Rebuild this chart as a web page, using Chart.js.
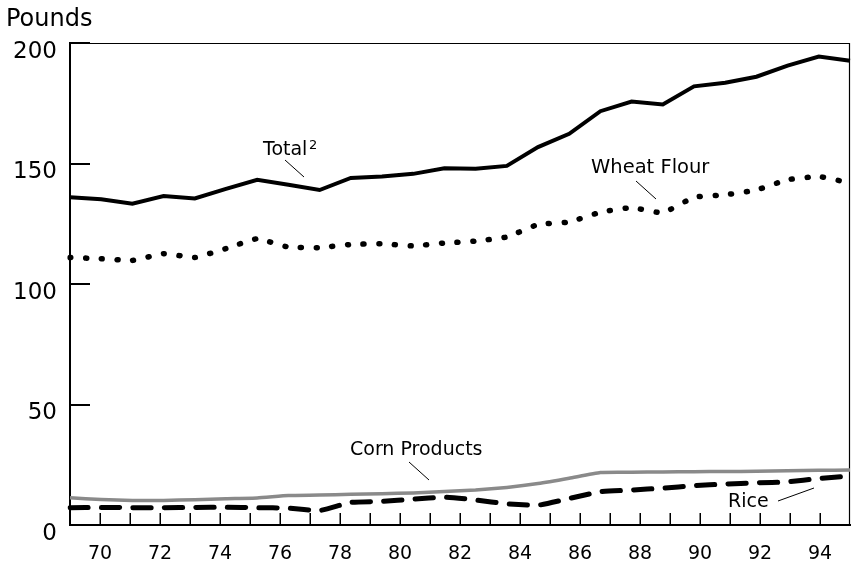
<!DOCTYPE html>
<html><head><meta charset="utf-8">
<script src="https://cdn.jsdelivr.net/npm/chart.js@4.4.1/dist/chart.umd.min.js"></script>
<style>html,body{margin:0;padding:0;background:#fff;}#wrap{width:855px;height:563px;position:relative;}</style>
</head><body><div id="wrap"><canvas id="c" width="855" height="563"></canvas></div>
<script>
// ---- data ----
const years = ['1970','1971','1972','1973','1974','1975','1976','1977','1978','1979','1980','1981','1982','1983','1984','1985','1986','1987','1988','1989','1990','1991','1992','1993','1994','1995'];
const totalPounds = [136, 135.2, 133.3, 136.5, 135.5, 139.5, 143.2, 141.2, 139, 144, 144.6, 145.7, 148, 147.8, 149, 156.8, 162.3, 171.7, 175.7, 174.5, 182, 183.5, 186, 190.6, 194.4, 192.6];
const wheatFlour = [111, 110.5, 109.8, 112.6, 111, 114.7, 118.8, 115.3, 115.1, 116.4, 116.7, 115.8, 117, 117.8, 119.5, 124.7, 125.7, 129.8, 131.7, 129.5, 136, 137, 139, 143.3, 144.6, 141.9];
const cornProducts = [11.3, 10.6, 10.2, 10.2, 10.5, 10.9, 11.2, 12.2, 12.4, 12.8, 13.0, 13.3, 13.9, 14.5, 15.6, 17.2, 19.4, 21.8, 21.9, 22.0, 22.1, 22.2, 22.3, 22.5, 22.7, 22.8];
const rice = [7.2, 7.3, 7.2, 7.2, 7.3, 7.4, 7.2, 7.0, 6.0, 9.4, 9.8, 10.7, 11.6, 10.4, 8.8, 8.2, 11.0, 13.8, 14.5, 15.3, 16.3, 17.0, 17.5, 17.9, 19.3, 20.4];
const xTickYears = [1970,1972,1974,1976,1978,1980,1982,1984,1986,1988,1990,1992,1994];
const xTickLabels = ['70','72','74','76','78','80','82','84','86','88','90','92','94'];
const yTickValues = [0,50,100,150,200];
const yTickLabels = ['0','50','100','150','200'];

const FONT = '"DejaVu Sans", sans-serif';

const framePlugin = {
  id: 'frame',
  beforeDatasetsDraw(chart) {
    const {ctx, chartArea: a, scales} = chart;
    ctx.save();
    ctx.strokeStyle = '#000';
    ctx.lineWidth = 1.2;
    ctx.beginPath();
    ctx.moveTo(a.left, a.top + 0.5);
    ctx.lineTo(a.right - 0.5, a.top + 0.5);
    ctx.lineTo(a.right - 0.5, a.bottom);
    ctx.stroke();
    ctx.lineWidth = 2;
    scales.y.ticks.forEach(t => {
      const y = Math.round(scales.y.getPixelForValue(t.value));
      ctx.beginPath(); ctx.moveTo(a.left, y); ctx.lineTo(a.left + 20, y); ctx.stroke();
    });
    ctx.lineWidth = 1.5;
    scales.x.ticks.forEach(t => {
      if (t.value <= 1969 || t.value >= 1995) return;
      const x = Math.round(scales.x.getPixelForValue(t.value)) + 0.25;
      ctx.beginPath(); ctx.moveTo(x, a.bottom); ctx.lineTo(x, a.bottom - 12); ctx.stroke();
    });
    ctx.restore();
  },
  afterDraw(chart) {
    const ctx = chart.ctx;
    ctx.save();
    ctx.fillStyle = '#000';
    ctx.textBaseline = 'alphabetic';
    ctx.textAlign = 'left';
    ctx.font = '24px ' + FONT;
    ctx.fillText('Pounds', 6, 26);
    ctx.font = '19px ' + FONT;
    ctx.fillText('Total', 263, 155);
    ctx.font = '13px ' + FONT;
    ctx.fillText('2', 309, 149);
    ctx.font = '19.5px ' + FONT;
    ctx.fillText('Wheat Flour', 591, 173);
    ctx.font = '19px ' + FONT;
    ctx.fillText('Corn Products', 350, 455);
    ctx.fillText('Rice', 728, 507);
    ctx.strokeStyle = '#000';
    ctx.lineWidth = 1;
    const lines = [[285,160,304,177],[636,181,656,199],[409,462,429,480],[778,501,814,488]];
    lines.forEach(l => { ctx.beginPath(); ctx.moveTo(l[0], l[1]); ctx.lineTo(l[2], l[3]); ctx.stroke(); });
    ctx.restore();
  }
};

new Chart(document.getElementById('c'), {
  type: 'line',
  data: {
    labels: years,
    datasets: [
      { label: 'Corn Products', data: cornProducts, xAxisID: 'xd', borderColor: '#8a8a8a', borderWidth: 3.5, pointRadius: 0, tension: 0.15, fill: false },
      { label: 'Rice', data: rice, xAxisID: 'xd', borderColor: '#000', borderWidth: 5, borderDash: [18, 13.5], borderCapStyle: 'round', pointRadius: 0, tension: 0.15, fill: false },
      { label: 'Wheat Flour', data: wheatFlour, xAxisID: 'xd', borderColor: '#000', borderWidth: 5.5, borderDash: [1, 14.7], borderCapStyle: 'round', pointRadius: 0, tension: 0.1, fill: false },
      { label: 'Total', data: totalPounds, xAxisID: 'xd', borderColor: '#000', borderWidth: 4, pointRadius: 0, tension: 0, fill: false }
    ]
  },
  options: {
    responsive: false,
    animation: false,
    devicePixelRatio: 1,
    layout: { padding: { left: 0, top: 43, right: 5, bottom: 0 } },
    plugins: { legend: { display: false }, tooltip: { enabled: false }, title: { display: false } },
    scales: {
      xd: {
        type: 'category', display: false, offset: false,
        ticks: { display: false },
        afterFit(s) { s.paddingLeft = 0; s.paddingRight = 0; s.height = 0; }
      },
      x: {
        type: 'linear', position: 'bottom', min: 1969, max: 1995,
        afterFit(s) { s.height = 38; s.paddingLeft = 0; s.paddingRight = 0; },
        grid: { display: false, drawTicks: false },
        border: { display: true, width: 2, color: '#000' },
        ticks: {
          stepSize: 1, autoSkip: false, maxRotation: 0, minRotation: 0, padding: 18,
          color: '#000', font: { family: FONT, size: 19 },
          callback(v) { const i = xTickYears.indexOf(v); return i >= 0 ? xTickLabels[i] : ''; }
        }
      },
      y: {
        type: 'linear', min: 0, max: 200,
        afterFit(s) { s.width = 70; },
        afterBuildTicks(s) { s.ticks = yTickValues.map(v => ({ value: v })); },
        grid: { display: false, drawTicks: false },
        border: { display: true, width: 2, color: '#000' },
        ticks: {
          padding: 13, labelOffset: 9, color: '#000', font: { family: FONT, size: 23 },
          callback(v) { const i = yTickValues.indexOf(v); return i >= 0 ? yTickLabels[i] : ''; }
        }
      }
    }
  },
  plugins: [framePlugin]
});
</script>
</body></html>
